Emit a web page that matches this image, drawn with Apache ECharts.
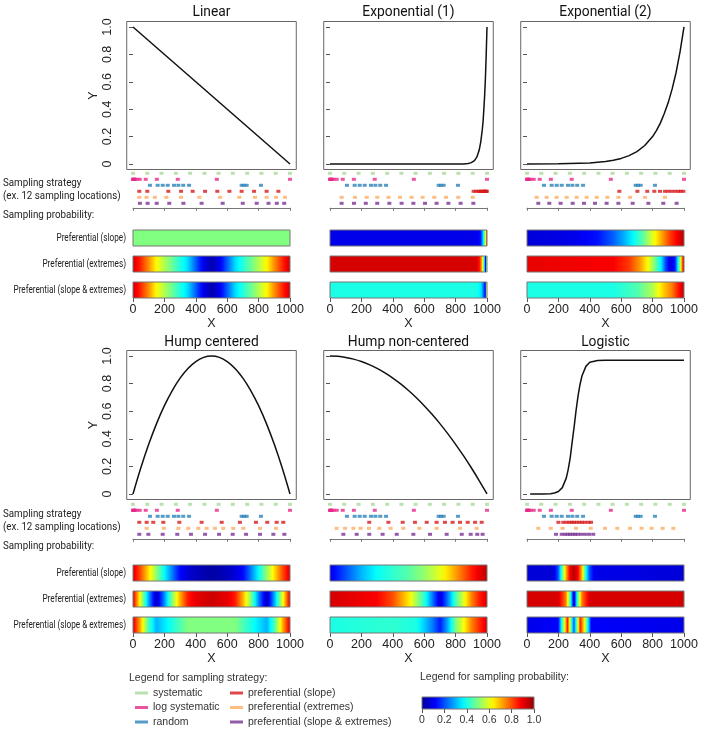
<!DOCTYPE html>
<html><head><meta charset="utf-8">
<script src="https://cdn.jsdelivr.net/npm/echarts@6/dist/echarts.min.js"></script>
<style>html,body{margin:0;padding:0;background:#fff}#c{width:701px;height:735px}</style>
</head><body><div id="c"></div>
<script>
// ---------- DATA ----------
const panelTitles = ['Linear','Exponential (1)','Exponential (2)','Hump centered','Hump non-centered','Logistic'];
const xTicks = [0,200,400,600,800,1000];
const yTicks = [0,0.2,0.4,0.6,0.8,1.0];
const yTickLabels = ['0','0.2','0.4','0.6','0.8','1.0'];
const colorbarTicks = [0,0.2,0.4,0.6,0.8,1.0];
const colorbarLabels = ['0','0.2','0.4','0.6','0.8','1.0'];
const strategyNames = ['systematic','log systematic','random','preferential (slope)','preferential (extremes)','preferential (slope & extremes)'];
const barLabels = ['Preferential (slope)','Preferential (extremes)','Preferential (slope & extremes)'];

// curves [x, y]
const curveLinear = [[0,1],[1000,0]];
const curveExp1 = [[0,0],[500,0],[800,0.0001],[850,0.001],[880,0.004],[900,0.01],[920,0.025],[935,0.05],[950,0.1],[960,0.16],[970,0.25],[975,0.31],[980,0.4],[985,0.5],[990,0.63],[995,0.8],[1000,1]];
const curveExp2 = [[0,0.0003],[200,0.0017],[400,0.008],[500,0.018],[550,0.027],[600,0.041],[650,0.061],[700,0.091],[750,0.135],[800,0.2],[825,0.245],[850,0.3],[875,0.37],[900,0.45],[925,0.55],[950,0.67],[975,0.82],[1000,1]];
const curveHumpC = [[0,0],[50,0.19],[100,0.36],[150,0.51],[200,0.64],[250,0.75],[300,0.84],[350,0.91],[400,0.96],[450,0.99],[500,1],[550,0.99],[600,0.96],[650,0.91],[700,0.84],[750,0.75],[800,0.64],[850,0.51],[900,0.36],[950,0.19],[1000,0]];
const curveHumpNC = [[0,1],[50,0.9975],[100,0.99],[150,0.9775],[200,0.96],[250,0.9375],[300,0.91],[350,0.8775],[400,0.84],[450,0.7975],[500,0.75],[550,0.6975],[600,0.64],[650,0.5775],[700,0.51],[750,0.4375],[800,0.36],[850,0.2775],[900,0.19],[950,0.0975],[1000,0]];
const curveLogistic = [[20,0],[100,0.0005],[150,0.002],[175,0.007],[200,0.018],[225,0.046],[250,0.115],[262,0.175],[275,0.26],[287,0.37],[300,0.485],[312,0.6],[325,0.71],[337,0.79],[350,0.855],[375,0.925],[400,0.955],[450,0.968],[500,0.97],[1000,0.97]];

// sampling locations (x)
const systematicX = [0,91,182,273,364,455,545,636,727,818,909,1000];
const logSystematicX = [1,2,3.5,6.6,12,23,43,81,152,285,534,1000];
const randomX = [108,157,189,221,261,289,320,357,692,707,724,815];

const prefSlopeLinear = [40,91,225,306,380,459,537,614,692,771,851,926];
const prefExtLinear = [40,86,139,212,306,423,554,677,777,851,911,968];
const prefBothLinear = [44,93,151,231,321,437,571,699,788,863,916,963];
const prefSlopeExp1 = [915,930,945,955,962,970,976,982,987,991,995,999];
const prefExtExp1 = [74,159,234,301,372,446,520,590,664,739,817,909];
const prefBothExp1 = [74,153,228,301,378,456,531,605,679,754,832,913];
const prefSlopeExp2 = [588,703,766,811,847,879,900,921,943,964,979,996];
const prefExtExp2 = [62,125,189,253,316,380,444,512,582,656,752,879];
const prefBothExp2 = [72,142,214,291,363,433,507,582,673,773,868,953];
const prefSlopeHumpC = [40,87,129,193,295,437,565,681,783,855,915,957];
const prefExtHumpC = [87,197,289,352,416,469,522,575,639,703,809,911];
const prefBothHumpC = [40,98,189,282,369,459,548,635,720,809,894,964];
const prefSlopeHumpNC = [250,372,463,541,616,679,732,781,828,877,924,966];
const prefExtHumpNC = [42,96,149,195,248,314,386,467,569,679,828,934];
const prefBothHumpNC = [85,170,250,335,425,531,637,743,839,896,938,972];
const prefSlopeLogistic = [200,231,252,270,285,299,316,333,350,369,391,408];
const prefExtLogistic = [72,151,227,312,406,497,575,656,730,794,864,932];
const prefBothLogistic = [185,221,242,259,274,291,306,323,344,369,395,422];

// sampling probability profiles [x, probability]
const heatSlopeLinear = [[0,0.5],[1000,0.5]];
const heatExtLinear = [[0,0.93],[50,0.84],[100,0.74],[150,0.63],[200,0.55],[250,0.48],[300,0.41],[350,0.34],[400,0.22],[450,0.1],[500,0.03],[550,0.1],[600,0.22],[650,0.34],[700,0.41],[750,0.48],[800,0.55],[850,0.63],[900,0.74],[950,0.84],[1000,0.93]];
const heatBothLinear = [[0,0.93],[50,0.84],[100,0.74],[150,0.63],[200,0.55],[250,0.48],[300,0.41],[350,0.34],[400,0.22],[450,0.1],[500,0.03],[550,0.1],[600,0.22],[650,0.34],[700,0.41],[750,0.48],[800,0.55],[850,0.63],[900,0.74],[950,0.84],[1000,0.93]];
const heatSlopeExp1 = [[0,0.1],[930,0.1],[955,0.14],[970,0.3],[980,0.45],[988,0.62],[994,0.8],[1000,0.95]];
const heatExtExp1 = [[0,0.92],[930,0.92],[950,0.85],[965,0.7],[975,0.5],[982,0.3],[987,0.08],[992,0.3],[996,0.65],[1000,0.92]];
const heatBothExp1 = [[0,0.4],[930,0.4],[960,0.35],[978,0.2],[986,0.1],[992,0.45],[996,0.75],[1000,0.95]];
const heatSlopeExp2 = [[0,0.08],[300,0.1],[450,0.14],[550,0.22],[620,0.3],[680,0.38],[740,0.47],[800,0.6],[850,0.7],[900,0.8],[950,0.88],[1000,0.95]];
const heatExtExp2 = [[0,0.9],[550,0.88],[650,0.82],[720,0.72],[770,0.62],[810,0.5],[850,0.37],[880,0.2],[910,0.08],[940,0.15],[970,0.5],[990,0.85],[1000,0.92]];
const heatBothExp2 = [[0,0.4],[550,0.4],[700,0.45],[800,0.55],[870,0.68],[920,0.75],[960,0.85],[1000,0.95]];
const heatSlopeHumpC = [[0,0.92],[50,0.8],[100,0.66],[150,0.52],[200,0.38],[250,0.25],[300,0.13],[350,0.08],[400,0.05],[450,0.03],[500,0.02],[550,0.03],[600,0.05],[650,0.08],[700,0.13],[750,0.25],[800,0.38],[850,0.52],[900,0.66],[950,0.8],[1000,0.92]];
const heatExtHumpC = [[0,0.92],[50,0.6],[100,0.3],[150,0.05],[200,0.25],[250,0.5],[300,0.7],[350,0.85],[400,0.9],[500,0.93],[600,0.9],[650,0.85],[700,0.7],[750,0.5],[800,0.25],[850,0.05],[900,0.3],[950,0.6],[1000,0.92]];
const heatBothHumpC = [[0,0.92],[50,0.7],[100,0.45],[150,0.3],[200,0.35],[250,0.4],[300,0.45],[350,0.5],[400,0.5],[500,0.5],[600,0.5],[650,0.5],[700,0.45],[750,0.4],[800,0.35],[850,0.3],[900,0.45],[950,0.7],[1000,0.92]];
const heatSlopeHumpNC = [[0,0.1],[100,0.2],[200,0.3],[300,0.38],[400,0.42],[500,0.46],[600,0.52],[700,0.6],[800,0.72],[900,0.85],[1000,0.95]];
const heatExtHumpNC = [[0,0.92],[300,0.88],[400,0.8],[500,0.65],[600,0.42],[650,0.25],[700,0.08],[750,0.25],[800,0.45],[850,0.6],[900,0.75],[950,0.85],[1000,0.92]];
const heatBothHumpNC = [[0,0.4],[400,0.42],[550,0.4],[650,0.25],[700,0.15],[750,0.3],[800,0.5],[850,0.62],[900,0.75],[1000,0.92]];
const heatSlopeLogistic = [[0,0.08],[170,0.08],[200,0.2],[225,0.45],[250,0.7],[275,0.88],[300,0.95],[325,0.88],[350,0.7],[375,0.4],[400,0.2],[430,0.1],[1000,0.08]];
const heatExtLogistic = [[0,0.92],[200,0.92],[250,0.75],[280,0.4],[300,0.05],[320,0.4],[350,0.75],[400,0.92],[1000,0.92]];
const heatBothLogistic = [[0,0.1],[200,0.12],[240,0.6],[260,0.85],[280,0.5],[300,0.2],[320,0.5],[340,0.85],[370,0.6],[410,0.12],[1000,0.1]];
const colorbarRamp = [[0,0],[1,1]];

// ---------- ASSEMBLY ----------
const panels = [
  {curve: curveLinear, smooth:false, pref:[prefSlopeLinear,prefExtLinear,prefBothLinear], heat:[heatSlopeLinear,heatExtLinear,heatBothLinear]},
  {curve: curveExp1, smooth:false, pref:[prefSlopeExp1,prefExtExp1,prefBothExp1], heat:[heatSlopeExp1,heatExtExp1,heatBothExp1]},
  {curve: curveExp2, smooth:false, pref:[prefSlopeExp2,prefExtExp2,prefBothExp2], heat:[heatSlopeExp2,heatExtExp2,heatBothExp2]},
  {curve: curveHumpC, smooth:0.4, pref:[prefSlopeHumpC,prefExtHumpC,prefBothHumpC], heat:[heatSlopeHumpC,heatExtHumpC,heatBothHumpC]},
  {curve: curveHumpNC, smooth:0.4, pref:[prefSlopeHumpNC,prefExtHumpNC,prefBothHumpNC], heat:[heatSlopeHumpNC,heatExtHumpNC,heatBothHumpNC]},
  {curve: curveLogistic, smooth:false, pref:[prefSlopeLogistic,prefExtLogistic,prefBothLogistic], heat:[heatSlopeLogistic,heatExtLogistic,heatBothLogistic]}
];

const strategyColors = ['#a9d99b','#e7298a','#2b83ba','#d7191c','#fdae61','#7b3294'];
const colX0 = [133,330,527], W = 157;
const rows = [
  {titleY:12, lineTop:21.5, lineH:148, stratTop:170.3, heatTop:[230,256,282], textOff:0},
  {titleY:342, lineTop:350.5, lineH:149, stratTop:501.3, heatTop:[565,591,617], textOff:331}
];
const AX = 'Liberation Sans', MY = 'Roboto';

const jetAnchors = [[0,[0,0,150]],[0.125,[0,0,255]],[0.375,[0,255,255]],[0.625,[255,255,0]],[0.875,[255,0,0]],[1,[140,0,0]]];
function jet(v){
  v = Math.max(0, Math.min(1, v));
  for (let i=1;i<jetAnchors.length;i++){
    const a=jetAnchors[i-1], b=jetAnchors[i];
    if (v<=b[0]){ const t=(v-a[0])/(b[0]-a[0]);
      return 'rgb('+a[1].map((c,k)=>Math.round(c+(b[1][k]-c)*t)).join(',')+')'; }
  }
  return 'rgb(140,0,0)';
}
function gradientStops(prof){
  const x0=prof[0][0], x1=prof[prof.length-1][0], stops=[];
  for (let i=0;i<prof.length;i++){
    if (i>0){
      const a=prof[i-1], b=prof[i];
      const n=Math.max(1, Math.ceil(Math.abs(b[1]-a[1])/0.04));
      for (let s=1;s<n;s++){ const t=s/n;
        stops.push({offset:(a[0]+(b[0]-a[0])*t - x0)/(x1-x0), color:jet(a[1]+(b[1]-a[1])*t)}); }
    }
    stops.push({offset:(prof[i][0]-x0)/(x1-x0), color:jet(prof[i][1])});
  }
  return stops;
}
function heatRender(prof){
  return function(params, api){
    const p0 = api.coord([api.value(0), 1]);
    const p1 = api.coord([api.value(1), 0]);
    return {type:'rect', shape:{x:p0[0], y:p0[1], width:p1[0]-p0[0], height:p1[1]-p0[1]},
      style:{fill:new echarts.graphic.LinearGradient(0,0,1,0,gradientStops(prof)), stroke:'#777', lineWidth:1}};
  };
}
function txt(x, y, text, size, family, opts){
  return Object.assign({type:'text', x:x, y:y, scaleX:(opts&&opts.sx)||1, silent:true,
    style:{text:text, fontSize:size, fontFamily:family, fill:(opts&&opts.fill)||'#222', align:(opts&&opts.align)||'left', verticalAlign:'middle'}});
}

const grid=[], xAxis=[], yAxis=[], series=[], graphic=[];
function addGrid(g, xa, ya){ grid.push(g); const gi=grid.length-1;
  xAxis.push(Object.assign({gridIndex:gi}, xa)); yAxis.push(Object.assign({gridIndex:gi}, ya)); return gi; }

panels.forEach((p, i) => {
  const c = i % 3, R = rows[Math.floor(i/3)];
  graphic.push(txt(colX0[c] + W/2, R.titleY, panelTitles[i], 15, MY, {align:'center', sx:0.92, fill:'#111'}));
  // line plot
  const gi = addGrid({left: colX0[c]-0.04*W, width: W*1.08, top: R.lineTop, height: R.lineH, show:true, borderColor:'#666', borderWidth:1, backgroundColor:'transparent'},
    {type:'value', min:-40, max:1040, show:false},
    {type:'value', min:-0.04, max:1.04, splitLine:{show:false}, axisLine:{show:false},
      axisTick:{show:true, customValues:yTicks, length:4, lineStyle:{color:'#555'}},
      axisLabel:{show:c===0, customValues:yTicks, rotate:90, margin:13, fontSize:12.5, fontFamily:AX, color:'#222',
        formatter: v => yTickLabels[yTicks.findIndex(t => Math.abs(t-v)<1e-9)]},
      name: c===0 ? 'Y' : '', nameLocation:'middle', nameGap:20, nameRotate:90,
      nameTextStyle:{fontSize:12.5, fontFamily:AX, color:'#222'}});
  series.push({type:'line', xAxisIndex:gi, yAxisIndex:gi, data:p.curve, symbol:'none', smooth:p.smooth,
    lineStyle:{color:'#111', width:1.5}, silent:true, animation:false});
  // sampling strategies
  const si = addGrid({left: colX0[c], width: W, top: R.stratTop, height: 37.5},
    {type:'value', min:0, max:1000, interval:200, splitLine:{show:false},
      axisLine:{show:true, onZero:false, lineStyle:{color:'#777'}}, axisTick:{show:true, length:3, lineStyle:{color:'#777'}}, axisLabel:{show:false}},
    {type:'value', min:0.5, max:6.75, inverse:true, show:false});
  const sets = [systematicX, logSystematicX, randomX, p.pref[0], p.pref[1], p.pref[2]];
  sets.forEach((xs, k) => {
    series.push({type:'scatter', name: strategyNames[k], xAxisIndex:si, yAxisIndex:si, data: xs.map(x => [x, k+1]),
      symbol:'rect', symbolSize:[4,3], itemStyle:{color: strategyColors[k]}, silent:true, clip:false});
  });
  // sampling probability bars
  p.heat.forEach((prof, b) => {
    const last = b === 2;
    const hi = addGrid({left: colX0[c], width: W, top: R.heatTop[b], height: 16},
      {type:'value', min:0, max:1000, interval:200, splitLine:{show:false}, axisLine:{show:false},
        axisTick:{show:last, customValues:xTicks, length:4, lineStyle:{color:'#555'}},
        axisLabel:{show:last, customValues:xTicks, margin:5, fontSize:12.5, fontFamily:AX, color:'#222', formatter: v => String(v)},
        name: last ? 'X' : '', nameLocation:'middle', nameGap:19, nameTextStyle:{fontSize:12.5, fontFamily:AX, color:'#222'}},
      {type:'value', min:0, max:1, show:false});
    series.push({type:'custom', xAxisIndex:hi, yAxisIndex:hi, data:[[prof[0][0], prof[prof.length-1][0]]],
      encode:{x:[0,1]}, renderItem: heatRender(prof), silent:true, clip:false});
  });
});

// colorbar legend
const cb = addGrid({left:422, width:112, top:697, height:12},
  {type:'value', min:0, max:1, interval:0.2, splitLine:{show:false}, axisLine:{show:false},
    axisTick:{show:true, customValues:colorbarTicks, length:4, lineStyle:{color:'#555'}},
    axisLabel:{show:true, customValues:colorbarTicks, margin:6, fontSize:10.5, fontFamily:AX, color:'#333',
      formatter: v => colorbarLabels[colorbarTicks.findIndex(t => Math.abs(t-v)<1e-9)]}},
  {type:'value', min:0, max:1, show:false});
series.push({type:'custom', xAxisIndex:cb, yAxisIndex:cb, data:[[colorbarRamp[0][0], colorbarRamp[1][0]]], encode:{x:[0,1]},
  renderItem: heatRender(colorbarRamp), silent:true, clip:false});

// side texts
rows.forEach(R => {
  const off = R.textOff;
  graphic.push(txt(3, 183+off, 'Sampling strategy', 11.5, MY, {sx:0.85}));
  graphic.push(txt(3, 196.5+off, '(ex. 12 sampling locations)', 11.5, MY, {sx:0.85}));
  graphic.push(txt(3, 215+off, 'Sampling probability:', 11.5, MY, {sx:0.85}));
  barLabels.forEach((t, b) => {
    graphic.push(txt(126, R.heatTop[b]+8, t, 10.5, MY, {align:'right', sx:0.78}));
  });
});
graphic.push(txt(129, 678, 'Legend for sampling strategy:', 10.5, AX, {fill:'#333'}));
graphic.push(txt(420, 677, 'Legend for sampling probability:', 10.5, AX, {fill:'#333'}));

const legendBase = {orient:'vertical', icon:'rect', itemWidth:13, itemHeight:3, itemGap:2.5, padding:0, selectedMode:false,
  textStyle:{fontSize:10.5, fontFamily:AX, color:'#333', lineHeight:12}};
const option = {
  animation:false,
  backgroundColor:'#fff',
  grid, xAxis, yAxis, series, graphic,
  legend:[
    Object.assign({left:135, top:687, data:strategyNames.slice(0,3)}, legendBase),
    Object.assign({left:230, top:687, data:strategyNames.slice(3)}, legendBase)
  ]
};
const chart = echarts.init(document.getElementById('c'));
chart.setOption(option);
</script>
</body></html>
